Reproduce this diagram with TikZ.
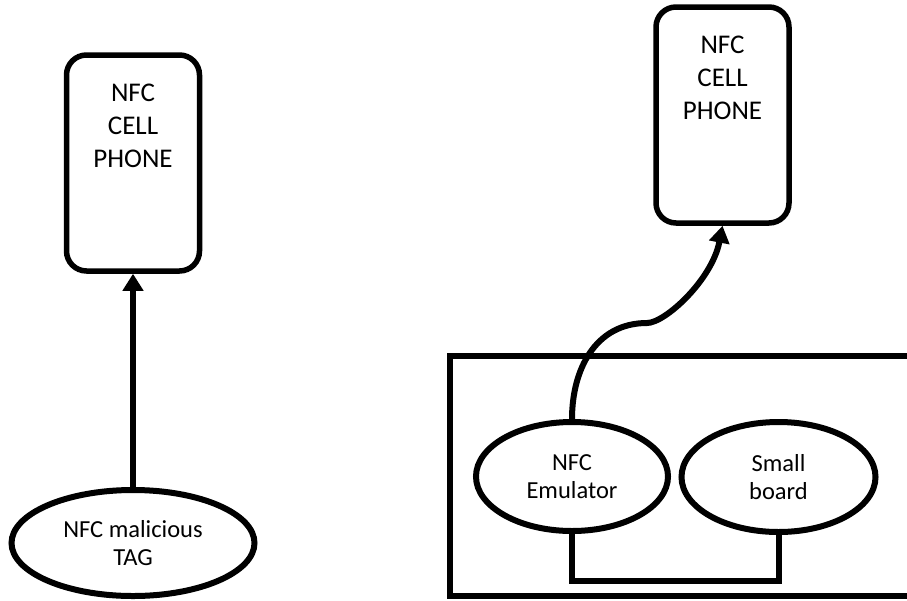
\documentclass[tikz,border=0pt]{standalone}
\usepackage{fontspec}
\setmainfont{Carlito}
\usetikzlibrary{shapes.geometric,arrows.meta,calc}

\tikzset{
  phone/.style={draw, line width=5.5pt, rounded corners=20pt,
    minimum width=133pt, minimum height=216pt, inner sep=0pt,
    font=\fontsize{27}{33}\selectfont},
  blob/.style={draw, ellipse, line width=6pt, inner sep=0pt, align=center,
    font=\fontsize{24.5}{28}\selectfont},
  link/.style={line width=6pt},
  tip/.style={-{Triangle[width=20pt,length=17pt]}},
}

\newcommand{\phonetext}{\parbox[c][158pt][t]{120pt}{\centering NFC\\CELL\\PHONE}}

\begin{document}
\begin{tikzpicture}[x=1pt,y=-1pt]
  \useasboundingbox (0,0) rectangle (907,600);
  \clip (0,0) rectangle (907,600);

  % left: phone read by a malicious tag
  \node[phone] (phoneA) at (133,163) {\phonetext};
  \node[blob, minimum width=243pt, minimum height=106pt] (tag) at (133,543)
    {NFC malicious\\TAG};
  \draw[link, tip] (tag.north) -- (phoneA.south);

  % right: emulator board talking to a phone
  \node[phone] (phoneB) at (722.5,115) {\phonetext};
  \draw[line width=6.5pt] (920,356) -- (450,356) -- (450,596) -- (920,596);
  \node[blob, minimum width=192pt, minimum height=109pt] (emu) at (572,476.5)
    {NFC\\Emulator};
  \node[blob, minimum width=194pt, minimum height=110pt] (board) at (778.5,477)
    {Small\\board};
  \coordinate (bend) at (647,323);
  \draw[link, tip] (emu.north) .. controls (572,370) and (595,323) .. (bend)
    .. controls (665,323) and (712,280) .. (phoneB.south);
  \draw[link] (emu.south) -- ++(0,47) -| (board.south);
\end{tikzpicture}
\end{document}
